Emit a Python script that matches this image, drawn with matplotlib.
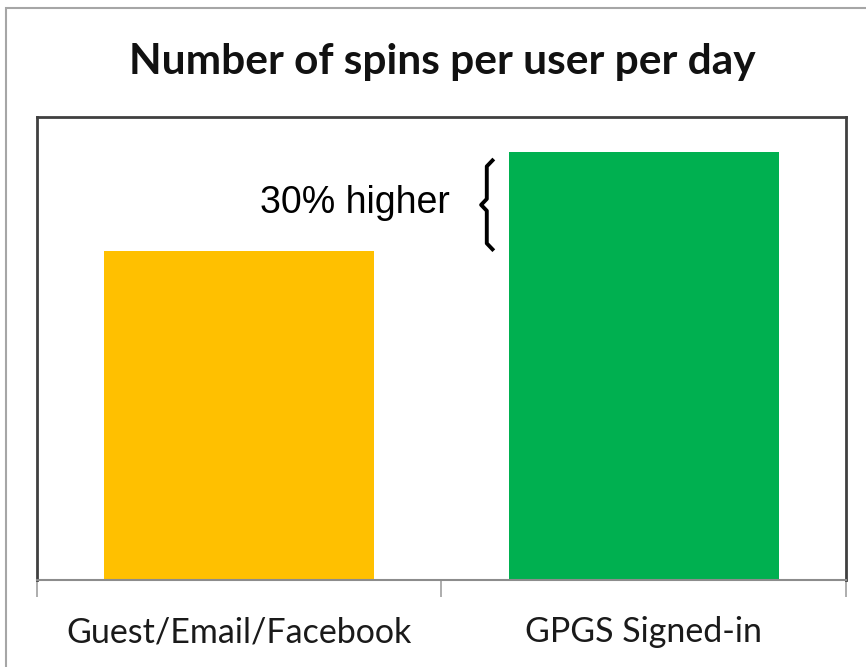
import matplotlib
matplotlib.use("Agg")
import matplotlib.pyplot as plt
from matplotlib.patches import Rectangle

# data
categories = ["Guest/Email/Facebook", "GPGS Signed-in"]
spins = [1.0, 1.3]
bar_colors = ["#FFC000", "#00B050"]
title = "Number of spins per user per day"
note = "30% higher"

fig = plt.figure(figsize=(8.66, 6.67), dpi=100)
ax = fig.add_axes([0.0427, 0.1304, 0.9342, 0.6942])

x = list(range(len(categories)))
ax.bar(x, spins, width=0.667, color=bar_colors, zorder=2)
ax.set_xlim(-0.5, 1.5)
ax.set_ylim(0, 1.407)

# box around plot area, grey baseline
for side in ("left", "right", "top"):
    ax.spines[side].set_color("#404040")
    ax.spines[side].set_linewidth(2)
ax.spines["bottom"].set_color("#8c8c8c")
ax.spines["bottom"].set_linewidth(1.5)

ax.set_yticks([])
ax.set_xticks([-0.5, 0.5, 1.5])
ax.set_xticklabels([])
ax.tick_params(axis="x", length=12, width=1.2, color="#a0a0a0", direction="out")
for xi, lab in zip(x, categories):
    ax.text(xi, -0.158, lab, ha="center", va="center", fontsize=24.5,
            family="Lato", color="#1a1a1a")

fig.text(0.511, 0.907, title, ha="center", va="center", fontsize=30.5,
         fontweight="bold", family="Lato", color="#111111")

# curly bracket between the two bar heights
bx, dx = 0.612, 0.014
top = spins[1] - 0.025
bot = spins[0] + 0.005
mid = (top + bot) / 2
r = 0.018
ax.plot([bx + dx, bx, bx, bx - dx, bx, bx, bx + dx],
        [top, top - r, mid + r, mid, mid - r, bot + r, bot],
        color="black", lw=2.8, solid_joinstyle="round", zorder=3)
ax.text(0.521, mid + 0.005, note, ha="right", va="center", fontsize=27,
        family="Liberation Sans", color="black")

# outer chart border
fig.patches.append(Rectangle((0.0069, -0.1), 1.2, 1.088, transform=fig.transFigure,
                             fill=False, edgecolor="#a6a6a6", lw=1.5))

fig.savefig("out.png", dpi=100)
